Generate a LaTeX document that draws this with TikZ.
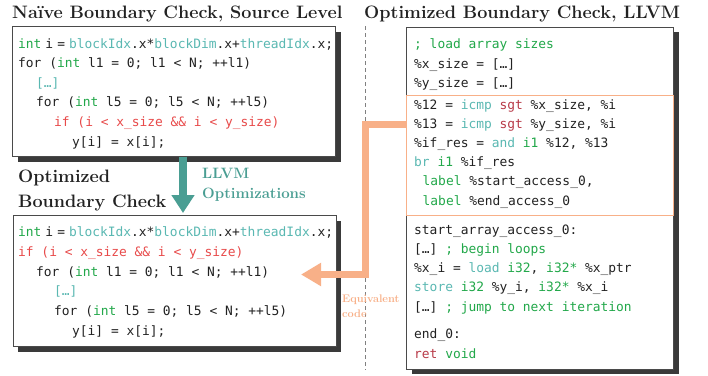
\documentclass[tikz,border=0pt]{standalone}
\usepackage{fontspec}
\usetikzlibrary{shadows,arrows.meta}
\newfontfamily\codefont{DejaVu Sans Mono}
\definecolor{cgreen}{HTML}{22A84A}
\definecolor{cteal}{HTML}{5AB8B2}
\definecolor{cred}{HTML}{E84A4A}
\definecolor{cdred}{HTML}{B83A48}
\definecolor{corange}{HTML}{F8B088}
\definecolor{carrow}{HTML}{4A9E93}
\definecolor{boxgray}{HTML}{4A4A4A}
\definecolor{shadowgray}{HTML}{3A3A3A}
\definecolor{dashgray}{HTML}{808080}
\definecolor{ink}{HTML}{222222}
\newcommand{\G}[1]{\textcolor{cgreen}{#1}}
\newcommand{\T}[1]{\textcolor{cteal}{#1}}
\newcommand{\R}[1]{\textcolor{cred}{#1}}
\newcommand{\D}[1]{\textcolor{cdred}{#1}}
\newcommand{\ind}{\hspace*{18pt}}
\newcommand{\ns}{\hspace*{4pt}}
\tikzset{
  shadowbox/.style={draw=boxgray, line width=0.8pt, fill=white, inner sep=0pt,
    anchor=north west,
    general shadow={fill=shadowgray, shadow xshift=5.5pt, shadow yshift=-5.5pt}},
  codeln/.style={font=\fontsize{12.9}{15}\codefont, text=ink, inner sep=0pt, anchor=base west},
  title/.style={font=\fontsize{18}{20}\bfseries, text=ink, inner sep=0pt, anchor=base west},
  subtitle/.style={font=\fontsize{18}{20}\bfseries, text=ink, inner sep=0pt, anchor=base west},
  tealtxt/.style={font=\fontsize{15}{18}\bfseries, text=carrow, inner sep=0pt, anchor=base west},
  orangetxt/.style={font=\fontsize{11}{13}\bfseries, text=corange, inner sep=0pt, anchor=base west},
}
\begin{document}
\begin{tikzpicture}[x=1pt,y=-1pt]
\useasboundingbox (0,0) rectangle (708,375);
\fill[white] (0,0) rectangle (708,375);

% dashed separator
\coordinate (dtop) at (365.7,26);
\coordinate (dbot) at (365.7,370);
\draw[dashgray, line width=0.9pt, dash pattern=on 4pt off 3pt] (dtop) -- (dbot);

% titles
\node[title] (t1) at (12,18) {Naïve Boundary Check, Source Level};
\node[title] (t2) at (364,18.5) {Optimized Boundary Check, LLVM};
\node[subtitle] (t3) at (18,182) {Optimized};
\node[subtitle] (t4) at (18,207) {Boundary Check};

% boxes
\node[shadowbox, minimum width=323pt, minimum height=130pt] (src) at (12,26) {};
\node[shadowbox, minimum width=323pt, minimum height=131pt] (opt) at (12.5,215) {};
\node[shadowbox, minimum width=267pt, minimum height=342pt] (ir) at (406,26.5) {};
\draw[corange, line width=1pt] (406,95) rectangle (673,215);
\coordinate (orgtop) at (406,95);
\node[inner sep=0pt, minimum width=267pt, minimum height=120pt, anchor=north west] (cond) at (orgtop) {};

% source code (box 1)
\node[codeln] (s1) at (18,48) {\G{int}\ns i\ns=\ns\T{blockIdx}.x*\T{blockDim}.x+\T{threadIdx}.x;};
\node[codeln] (s2) at (18,67.6) {for (\G{int} l1 = 0; l1 < N; ++l1)};
\node[codeln] (s3) at (18,87.2) {\ind\T{[…]}};
\node[codeln] (s4) at (18,106.8) {\ind for (\G{int} l5 = 0; l5 < N; ++l5)};
\node[codeln] (s5) at (18,126.4) {\ind\ind\R{if (i < x\_size \&\& i < y\_size)}};
\node[codeln] (s6) at (18,146) {\ind\ind\ind y[i] = x[i];};

% optimized code (box 2)
\node[codeln] (o1) at (18,236.7) {\G{int}\ns i\ns=\ns\T{blockIdx}.x*\T{blockDim}.x+\T{threadIdx}.x;};
\node[codeln] (o2) at (18,256.4) {\R{if (i < x\_size \&\& i < y\_size)}};
\node[codeln] (o3) at (18,276.1) {\ind for (\G{int} l1 = 0; l1 < N; ++l1)};
\node[codeln] (o4) at (18,295.8) {\ind\ind\T{[…]}};
\node[codeln] (o5) at (18,315.5) {\ind\ind for (\G{int} l5 = 0; l5 < N; ++l5)};
\node[codeln] (o6) at (18,335.2) {\ind\ind\ind y[i] = x[i];};

% LLVM IR
\node[codeln] (r1) at (414,48.3) {\G{; load array sizes}};
\node[codeln] (r2) at (414,68.3) {\%x\_size = […]};
\node[codeln] (r3) at (414,87.3) {\%y\_size = […]};
\node[codeln] (r4) at (414,109.3) {\%12 = \T{icmp} \D{sgt} \%x\_size, \%i};
\node[codeln] (r5) at (414,128.3) {\%13 = \T{icmp} \D{sgt} \%y\_size, \%i};
\node[codeln] (r6) at (414,147.7) {\%if\_res = \T{and} \G{i1} \%12, \%13};
\node[codeln] (r7) at (414,166.7) {\T{br} \G{i1} \%if\_res};
\node[codeln] (r8) at (414,185.8) {\hspace*{8.5pt}\G{label} \%start\_access\_0,};
\node[codeln] (r9) at (414,205.5) {\hspace*{8.5pt}\G{label} \%end\_access\_0};
\node[codeln] (r10) at (414,234) {start\_array\_access\_0:};
\node[codeln] (r11) at (414,253.3) {[…] \G{; begin loops}};
\node[codeln] (r12) at (414,272.7) {\%x\_i = \T{load} \G{i32}, \G{i32*} \%x\_ptr};
\node[codeln] (r13) at (414,291.7) {\T{store} \G{i32} \%y\_i, \G{i32*} \%x\_i};
\node[codeln] (r14) at (414,311.7) {[…] \G{; jump to next iteration}};
\node[codeln] (r15) at (414,338.3) {end\_0:};
\node[codeln] (r16) at (414,358.3) {\D{ret} \G{void}};

% teal arrow
\coordinate (tstart) at (183,156.5);
\coordinate (tend) at (183,213);
\draw[carrow, line width=8pt, -{Triangle[width=22pt,length=18pt]}] (tstart) -- (tend);
\node[tealtxt] (l1) at (202,178) {LLVM};
\node[tealtxt] (l2) at (202,198) {Optimizations};

% orange arrow
\coordinate (ostart) at (406,124);
\coordinate (oend) at (301,274.5);
\draw[corange, line width=7pt, -{Triangle[width=22pt,length=20pt]}] (ostart) -- (365.5,124) -- (365.5,274.5) -- (oend);
\node[orangetxt] (e1) at (342,302) {Equivalent};
\node[orangetxt] (e2) at (342,317) {code};
\end{tikzpicture}
\end{document}
